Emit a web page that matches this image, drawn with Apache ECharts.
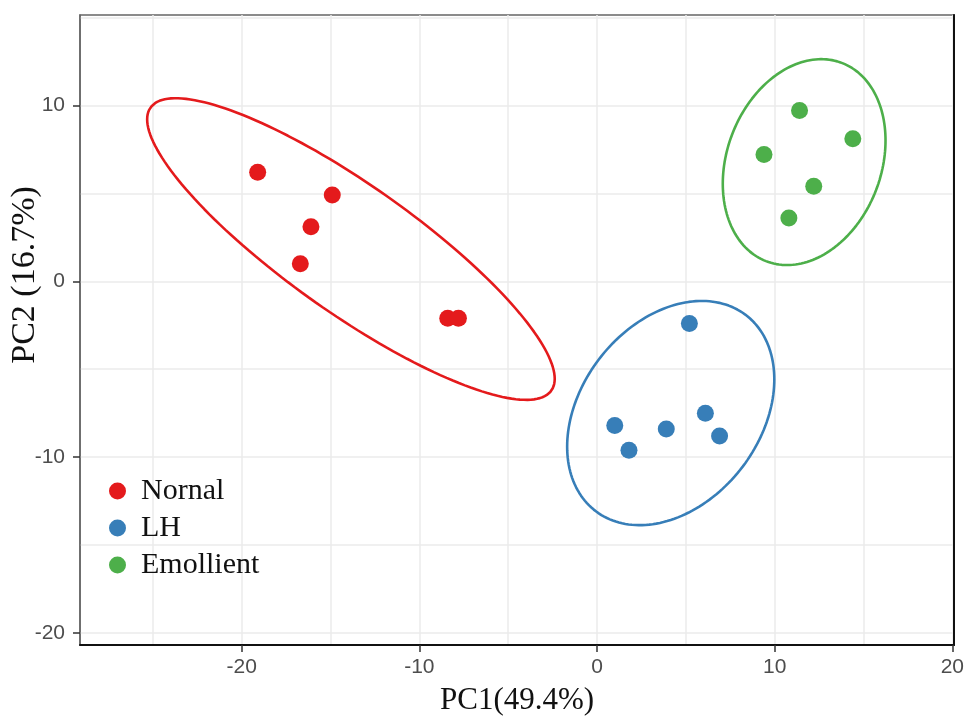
<!DOCTYPE html>
<html>
<head>
<meta charset="utf-8">
<script src="https://cdn.jsdelivr.net/npm/echarts@6/dist/echarts.min.js"></script>
<style>
  html, body { margin: 0; padding: 0; background: #fff; }
  #pca { width: 967px; height: 721px; }
</style>
</head>
<body>
<div id="pca"></div>
<script>
// groups
var groups = ['Nornal', 'LH', 'Emollient'];
var groupColors = ['#E41A1C', '#377EB8', '#4DAF4A'];

// sample scores [PC1, PC2]
var nornalPts = [[-19.1, 6.2], [-14.9, 4.9], [-16.1, 3.1], [-16.7, 1.0], [-8.4, -2.1], [-7.8, -2.1]];
var lhPts = [[5.2, -2.4], [1.0, -8.2], [1.8, -9.6], [3.9, -8.4], [6.1, -7.5], [6.9, -8.8]];
var emollientPts = [[11.4, 9.7], [14.4, 8.1], [9.4, 7.2], [12.2, 5.4], [10.8, 3.6]];

// ellipse params per group: [centre x, centre y, half width, half height, correlation]
var ellipseParams = [
    [-13.85, 1.83, 11.47, 8.57, -0.86],
    [4.15, -7.49, 5.83, 6.37, 0.30],
    [11.66, 6.77, 4.58, 5.85, 0.21]
];

// axes
var xTicks = [-20, -10, 0, 10, 20];
var yTicks = [-20, -10, 0, 10];
var xGrid = [-25, -20, -15, -10, -5, 0, 5, 10, 15, 20];
var yGrid = [-20, -15, -10, -5, 0, 5, 10, 15];

var allPts = [nornalPts, lhPts, emollientPts];

// outline of an ellipse: x = cx + a cos t, y = cy + b cos(t - phi), cos(phi) = r
var ellipsePath = function (p) {
    var phi = Math.acos(p[4]);
    var res = [];
    for (var deg = 0; deg <= 360; deg += 2) {
        var t = deg * Math.PI / 180;
        res.push([p[0] + p[2] * Math.cos(t), p[1] + p[3] * Math.cos(t - phi)]);
    }
    return res;
};

var chart = echarts.init(document.getElementById('pca'));

var gridLines = [];
xGrid.forEach(function (v) { gridLines.push({ xAxis: v }); });
yGrid.forEach(function (v) { gridLines.push({ yAxis: v }); });

var series = [{
    name: 'grid',
    type: 'scatter',
    data: [],
    z: 0,
    silent: true,
    markLine: {
        silent: true,
        z: 0,
        symbol: ['none', 'none'],
        label: { show: false },
        lineStyle: { color: '#ebebeb', width: 1.5, type: 'solid' },
        emphasis: { disabled: true },
        animation: false,
        data: gridLines
    }
}];

groups.forEach(function (g, i) {
    series.push({
        name: g,
        type: 'scatter',
        z: 4,
        symbol: 'circle',
        symbolSize: 17,
        itemStyle: { color: groupColors[i], opacity: 1 },
        data: allPts[i]
    });
});
groups.forEach(function (g, i) {
    series.push({
        name: g + ' ellipse',
        type: 'line',
        z: 3,
        showSymbol: false,
        smooth: false,
        lineStyle: { color: groupColors[i], width: 2.6 },
        data: ellipsePath(ellipseParams[i])
    });
});

chart.setOption({
    animation: false,
    grid: {
        left: 80, right: 11, top: 15, bottom: 69,
        show: true,
        borderColor: '#666',
        borderWidth: 1.5
    },
    legend: {
        data: groups,
        orient: 'vertical',
        left: 104,
        top: 471,
        icon: 'circle',
        itemWidth: 17,
        itemHeight: 17,
        itemGap: 7,
        textStyle: {
            fontFamily: 'Liberation Serif',
            fontSize: 30,
            lineHeight: 30,
            color: '#111',
            padding: [0, 0, 0, 10]
        }
    },
    xAxis: {
        type: 'value',
        min: -29.1,
        max: 20.1,
        name: 'PC1(49.4%)',
        nameLocation: 'middle',
        nameGap: 40,
        nameTextStyle: { fontFamily: 'Liberation Serif', fontSize: 31, color: '#111' },
        axisLine: { show: true, onZero: false, lineStyle: { color: '#111', width: 2 } },
        axisTick: { show: true, length: 7, customValues: xTicks, lineStyle: { color: '#333', width: 1.5 } },
        axisLabel: { customValues: xTicks, margin: 12, fontFamily: 'Liberation Sans', fontSize: 21, color: '#4d4d4d' },
        splitLine: { show: false }
    },
    yAxis: [{
        type: 'value',
        min: -20.67,
        max: 15.13,
        axisLine: { show: true, onZero: false, lineStyle: { color: '#666', width: 1.5 } },
        axisTick: { show: true, length: 7, customValues: yTicks, lineStyle: { color: '#333', width: 1.5 } },
        axisLabel: { customValues: yTicks, margin: 15, fontFamily: 'Liberation Sans', fontSize: 21, color: '#4d4d4d' },
        splitLine: { show: false }
    }, {
        type: 'value',
        position: 'right',
        min: -20.67,
        max: 15.13,
        axisLine: { show: true, onZero: false, lineStyle: { color: '#111', width: 2 } },
        axisTick: { show: false },
        axisLabel: { show: false },
        splitLine: { show: false }
    }],
    graphic: [{
        type: 'text',
        x: 25,
        y: 275,
        rotation: Math.PI / 2,
        style: {
            text: 'PC2 (16.7%)',
            fontFamily: 'Liberation Serif',
            fontSize: 34,
            fill: '#111',
            textAlign: 'center',
            textVerticalAlign: 'middle'
        }
    }],
    series: series
});
window.onresize = chart.resize;
</script>
</body>
</html>
